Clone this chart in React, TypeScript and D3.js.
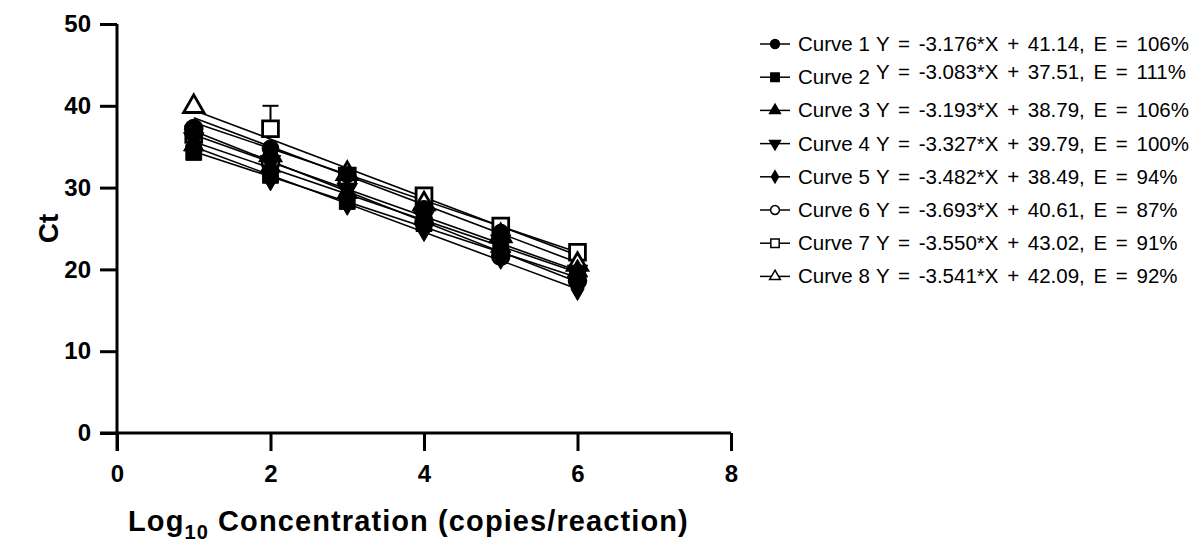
import React, { useEffect, useRef } from 'react';
import * as d3 from 'd3';

// log10 concentrations
const concentrations = [1, 2, 3, 4, 5, 6];

const curveNames = ['Curve 1', 'Curve 2', 'Curve 3', 'Curve 4', 'Curve 5', 'Curve 6', 'Curve 7', 'Curve 8'];

// mean Ct per curve
const ctCurve1 = [37.3, 34.8, 31.6, 27.4, 24.5, 19.3];
const ctCurve2 = [34.3, 31.5, 28.3, 25.6, 22.3, 19.0];
const ctCurve3 = [35.2, 32.6, 29.4, 26.2, 22.8, 19.8];
const ctCurve4 = [36.0, 33.2, 29.8, 26.4, 23.5, 19.8];
const ctCurve5 = [35.2, 31.0, 28.0, 24.8, 21.4, 17.6];
const ctCurve6 = [37.2, 33.0, 30.7, 25.8, 21.6, 18.6];
const ctCurve7 = [36.5, 37.2, 31.4, 29.0, 25.3, 22.1];
const ctCurve8 = [39.9, 34.0, 31.7, 28.0, 24.1, 20.6];

// SD (only the big one on curve 7 really shows)
const sdCurve7 = [0.4, 2.8, 0.5, 0.3, 0.4, 0.3];

const slopes = [-3.176, -3.083, -3.193, -3.327, -3.482, -3.693, -3.550, -3.541];
const intercepts = [41.14, 37.51, 38.79, 39.79, 38.49, 40.61, 43.02, 42.09];
const efficiencies = ['106%', '111%', '106%', '100%', '94%', '87%', '91%', '92%'];

const xTicks = [0, 2, 4, 6, 8];
const yTicks = [0, 10, 20, 30, 40, 50];

const allCt = [ctCurve1, ctCurve2, ctCurve3, ctCurve4, ctCurve5, ctCurve6, ctCurve7, ctCurve8];

const markerFor = (i: number) => {
  switch (i) {
    case 0:
    case 5:
      return { type: d3.symbolCircle, rotate: 0, size: 220 };
    case 1:
    case 6:
      return { type: d3.symbolSquare, rotate: 0, size: 250 };
    case 2:
    case 7:
      return { type: d3.symbolTriangle, rotate: 0, size: 180 };
    case 3:
      return { type: d3.symbolTriangle, rotate: 180, size: 180 };
    default:
      return { type: d3.symbolDiamond, rotate: 0, size: 150 };
  }
};

const isOpen = (i: number) => i >= 5;

const App = () => {
  const ref = useRef<SVGSVGElement>(null);

  useEffect(() => {
    const svg = d3.select(ref.current);
    svg.selectAll('*').remove();

    const x = d3.scaleLinear().domain([0, 8]).range([117, 731]);
    const y = d3.scaleLinear().domain([0, 50]).range([433, 24]);
    const font = 'Liberation Sans, Arial, Helvetica, sans-serif';

    // fit lines
    const fitLine = d3.line<[number, number]>().x(d => x(d[0])).y(d => y(d[1]));
    const fits = svg.append('g');
    slopes.forEach((m, i) => {
      fits.append('path')
        .attr('d', fitLine([1, 6].map(c => [c, m * c + intercepts[i]] as [number, number])))
        .attr('fill', 'none')
        .attr('stroke', '#000')
        .attr('stroke-width', 1.6);
    });

    // error bars (curve 7)
    const eb = svg.append('g').attr('stroke', '#000').attr('stroke-width', 2);
    concentrations.forEach((c, j) => {
      const top = ctCurve7[j] + sdCurve7[j];
      eb.append('line').attr('x1', x(c)).attr('x2', x(c)).attr('y1', y(ctCurve7[j])).attr('y2', y(top));
      eb.append('line').attr('x1', x(c) - 8).attr('x2', x(c) + 8).attr('y1', y(top)).attr('y2', y(top));
    });

    // markers: open ones underneath, filled ones on top
    const order = [5, 6, 7, 0, 1, 2, 3, 4];
    order.forEach(i => {
      const vals = allCt[i];
      const mk = markerFor(i);
      const g = svg.append('g');
      g.selectAll('path')
        .data(vals)
        .enter()
        .append('path')
        .attr('d', d3.symbol().type(mk.type).size(mk.size)())
        .attr('transform', (d, j) => `translate(${x(concentrations[j])},${y(d)}) rotate(${mk.rotate})`)
        .attr('fill', isOpen(i) ? '#fff' : '#000')
        .attr('stroke', '#000')
        .attr('stroke-width', isOpen(i) ? 2.8 : 1);
    });

    // axes
    const yAxis = svg.append('g')
      .attr('transform', `translate(${x(0)},0)`)
      .call(d3.axisLeft(y).tickValues(yTicks).tickSize(17).tickPadding(9));
    const xAxis = svg.append('g')
      .attr('transform', `translate(0,${y(0)})`)
      .call(d3.axisBottom(x).tickValues(xTicks).tickSize(18).tickPadding(19));
    [xAxis, yAxis].forEach(a => {
      a.select('.domain').attr('stroke-width', 3);
      a.selectAll('.tick line').attr('stroke-width', 3);
      a.selectAll('.tick text')
        .attr('font-family', font)
        .attr('font-weight', 'bold')
        .attr('font-size', 24)
        .attr('fill', '#000');
    });
    yAxis.select('.domain').attr('d', `M0,${y(50)}V${y(0) + 18}`);
    xAxis.select('.domain').attr('d', `M${x(0) - 17},0H${x(8)}`);
    xAxis.selectAll('.tick text').attr('dy', '0.5em');

    // axis titles
    svg.append('text')
      .attr('transform', `translate(58,${(y(0) + y(50)) / 2}) rotate(-90)`)
      .attr('text-anchor', 'middle')
      .attr('font-family', font)
      .attr('font-weight', 'bold')
      .attr('font-size', 28)
      .text('Ct');

    const xt = svg.append('text')
      .attr('x', 128)
      .attr('y', 531)
      .attr('font-family', font)
      .attr('font-weight', 'bold')
      .attr('font-size', 29)
      .attr('letter-spacing', 1.1);
    xt.append('tspan').text('Log');
    xt.append('tspan').attr('font-size', 20).attr('dy', 8).text('10');
    xt.append('tspan').attr('dy', -8).text(' Concentration (copies/reaction)');

    // legend
    const lg = svg.append('g').attr('transform', 'translate(760,44)');
    curveNames.forEach((name, i) => {
      const row = lg.append('g').attr('transform', `translate(0,${i * 33.2})`);
      const mk = markerFor(i);
      row.append('line').attr('x1', 0).attr('x2', 30).attr('stroke', '#000').attr('stroke-width', 1.5);
      row.append('path')
        .attr('d', d3.symbol().type(mk.type).size(mk.size * 0.28)())
        .attr('transform', `translate(15,0) rotate(${mk.rotate})`)
        .attr('fill', isOpen(i) ? '#fff' : '#000')
        .attr('stroke', '#000')
        .attr('stroke-width', 1.5);
      row.append('text')
        .attr('x', 38)
        .attr('y', 7)
        .attr('font-family', font)
        .attr('font-size', 20.5)
        .text(name);
      row.append('text')
        .attr('x', 116)
        .attr('y', i === 1 ? 2 : 7)
        .attr('font-family', font)
        .attr('font-size', 20.5)
        .attr('word-spacing', 3)
        .text(`Y = ${slopes[i].toFixed(3)}*X + ${intercepts[i].toFixed(2)}, E = ${efficiencies[i]}`);
    });
  }, []);

  return (
    <svg
      ref={ref}
      width={1201}
      height={548}
      style={{ position: 'absolute', left: 0, top: 0, background: '#fff' }}
    />
  );
};

export default App;
